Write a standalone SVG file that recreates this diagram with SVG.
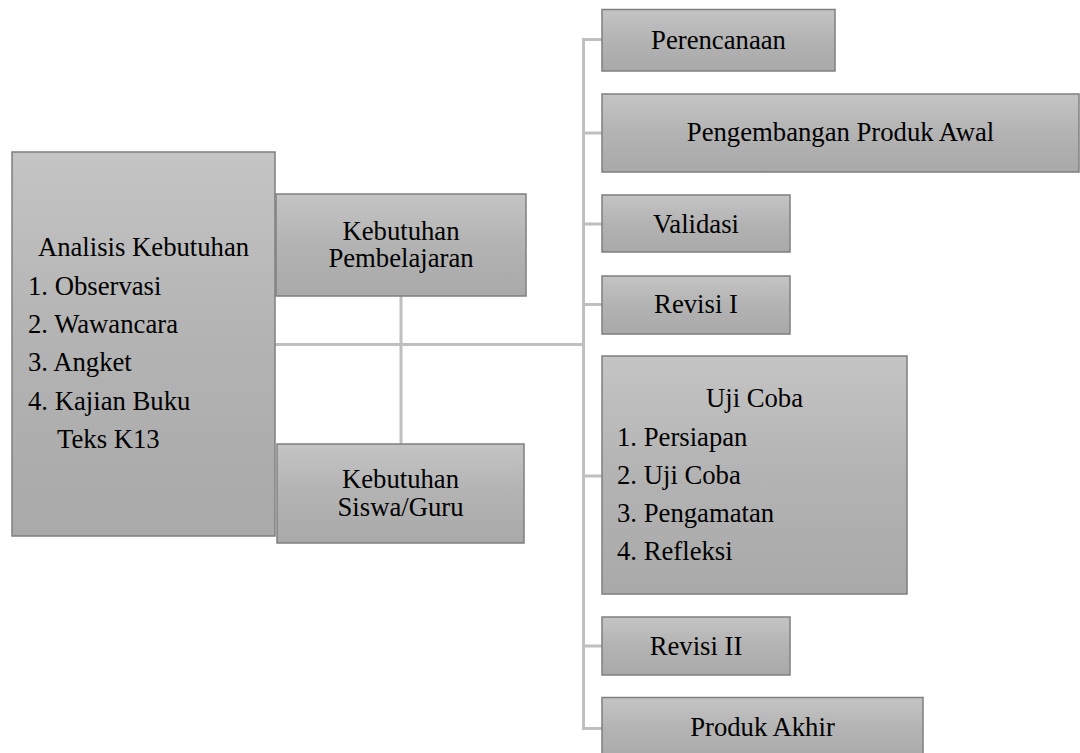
<svg xmlns="http://www.w3.org/2000/svg" width="1080" height="753" viewBox="0 0 1080 753">
<defs>
<linearGradient id="g" x1="0" y1="0" x2="0" y2="1">
<stop offset="0" stop-color="#c4c4c4"/>
<stop offset="0.5" stop-color="#b3b3b3"/>
<stop offset="1" stop-color="#a9a9a9"/>
</linearGradient>
<style>
.box{fill:url(#g);stroke:#7f7f7f;stroke-width:1.5}
.t{font-family:"Liberation Serif","Times New Roman",serif;font-size:26.7px;fill:#000}
.c{text-anchor:middle}
.ln{fill:none;stroke:#bfbfbf;stroke-width:3}
</style>
</defs>
<rect width="1080" height="753" fill="#fff"/>
<g id="connectors">
<path class="ln" d="M275 344.5H583"/>
<path class="ln" d="M401 296V444"/>
<path class="ln" d="M602 39.5H583.5V728.5H602"/>
<path class="ln" d="M583 133H602M583 224H602M583 304.5H602M583 476H602M583 646H602"/>
</g>
<g id="analisis">
<rect class="box" x="12" y="152" width="263" height="384"/>
<text class="t c" x="143.5" y="256">Analisis Kebutuhan</text>
<text class="t" x="28" y="294.5">1. Observasi</text>
<text class="t" x="28" y="333">2. Wawancara</text>
<text class="t" x="28" y="371">3. Angket</text>
<text class="t" x="28" y="409.5">4. Kajian Buku</text>
<text class="t" x="57" y="447.5">Teks K13</text>
</g>
<g id="pembelajaran">
<rect class="box" x="276" y="194" width="250" height="102"/>
<text class="t c" x="401" y="239.5">Kebutuhan</text>
<text class="t c" x="401" y="267">Pembelajaran</text>
</g>
<g id="siswa">
<rect class="box" x="277" y="444" width="247" height="99"/>
<text class="t c" x="400.5" y="488">Kebutuhan</text>
<text class="t c" x="400.5" y="515.5">Siswa/Guru</text>
</g>
<g id="perencanaan">
<rect class="box" x="602" y="9.5" width="233" height="61.5"/>
<text class="t c" x="718.5" y="48.5">Perencanaan</text>
</g>
<g id="pengembangan">
<rect class="box" x="602" y="94" width="477" height="78"/>
<text class="t c" x="840.5" y="141">Pengembangan Produk Awal</text>
</g>
<g id="validasi">
<rect class="box" x="602" y="195" width="188" height="57"/>
<text class="t c" x="696" y="232.5">Validasi</text>
</g>
<g id="revisi1">
<rect class="box" x="602" y="276" width="188" height="58"/>
<text class="t c" x="696" y="313">Revisi I</text>
</g>
<g id="ujicoba">
<rect class="box" x="602" y="356" width="305" height="238"/>
<text class="t c" x="754.5" y="407">Uji Coba</text>
<text class="t" x="617" y="446">1. Persiapan</text>
<text class="t" x="617" y="484">2. Uji Coba</text>
<text class="t" x="617" y="522">3. Pengamatan</text>
<text class="t" x="617" y="560">4. Refleksi</text>
</g>
<g id="revisi2">
<rect class="box" x="602" y="617" width="188" height="58"/>
<text class="t c" x="696" y="654.5">Revisi II</text>
</g>
<g id="produk">
<rect class="box" x="602" y="697.5" width="321" height="65"/>
<text class="t c" x="762.5" y="735.5">Produk Akhir</text>
</g>
</svg>
